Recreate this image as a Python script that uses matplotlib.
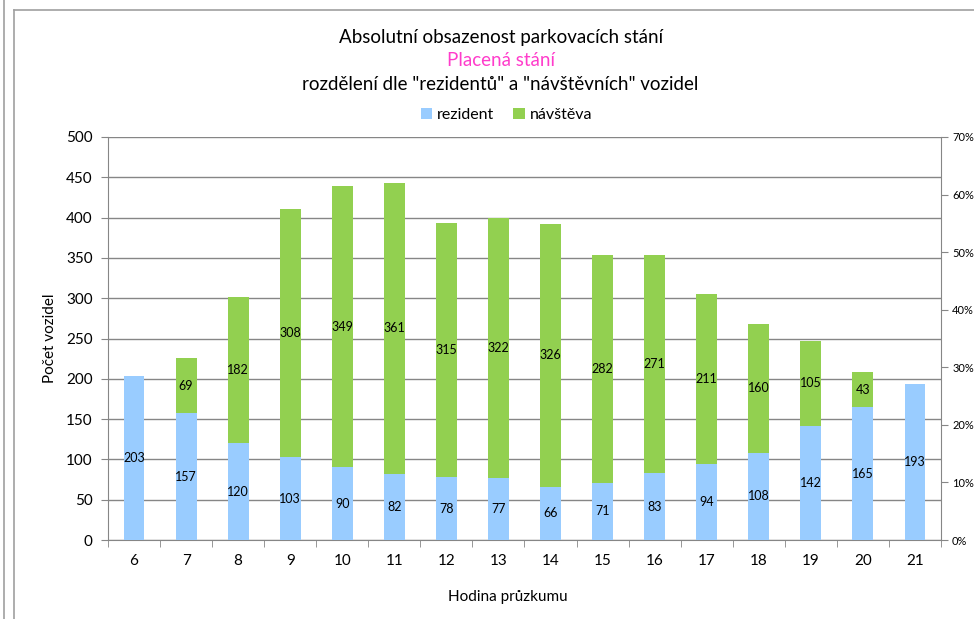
import matplotlib.pyplot as plt
import numpy as np
from matplotlib.lines import Line2D
from matplotlib.ticker import FuncFormatter

plt.rcParams['font.family'] = ['Lato', 'DejaVu Sans']

# data
hours = ['6', '7', '8', '9', '10', '11', '12', '13', '14', '15', '16', '17', '18', '19', '20', '21']
rezident = [203, 157, 120, 103, 90, 82, 78, 77, 66, 71, 83, 94, 108, 142, 165, 193]
navsteva = [0, 69, 182, 308, 349, 361, 315, 322, 326, 282, 271, 211, 160, 105, 43, 0]

blue = '#99CCFF'
green = '#92D050'
grid_c = '#868686'

fig = plt.figure(figsize=(9.74, 6.19), dpi=100)
ax = fig.add_axes([0.1109, 0.1276, 0.8552, 0.6511])

x = np.arange(len(hours))
w = 0.4
ax.bar(x, rezident, w, color=blue, label='rezident', zorder=3)
ax.bar(x, navsteva, w, bottom=rezident, color=green, label='návštěva', zorder=3)

# data labels
for i in range(len(hours)):
    ax.text(x[i], rezident[i] / 2, str(rezident[i]), ha='center', va='center', fontsize=9, zorder=4)
    if navsteva[i] > 0:
        ax.text(x[i], rezident[i] + navsteva[i] / 2, str(navsteva[i]), ha='center', va='center',
                fontsize=9, zorder=4)

ax.set_xlim(-0.5, len(hours) - 0.5)
ax.set_ylim(0, 500)
ax.set_yticks(range(0, 501, 50))
ax.set_xticks(x)
ax.set_xticklabels(hours)
ax.set_xticks(np.arange(-0.5, len(hours), 1), minor=True)
ax.tick_params(axis='x', which='major', length=0, pad=10, labelsize=11)
ax.tick_params(axis='x', which='minor', length=5, color=grid_c, direction='out')
ax.tick_params(axis='y', length=5, color=grid_c, direction='out', labelsize=11, pad=6)
ax.grid(axis='y', color=grid_c, linewidth=1, zorder=0)
for s in ['top', 'right']:
    ax.spines[s].set_visible(False)
for s in ['left', 'bottom']:
    ax.spines[s].set_color(grid_c)

ax2 = ax.twinx()
ax2.set_ylim(0, 0.7)
ax2.set_yticks(np.arange(0, 0.71, 0.1))
ax2.yaxis.set_major_formatter(FuncFormatter(lambda v, p: '{:.0f}%'.format(v * 100)))
ax2.tick_params(axis='y', length=5, color=grid_c, direction='out', labelsize=8, pad=3)
for s in ['top', 'left', 'bottom']:
    ax2.spines[s].set_visible(False)
ax2.spines['right'].set_color(grid_c)

# axis titles
fig.text(0.5216, 0.0355, 'Hodina průzkumu', ha='center', va='center', fontsize=11)
fig.text(0.0513, 0.454, 'Počet vozidel', ha='center', va='center', rotation=90, fontsize=11)

fig.text(0.514, 0.94, 'Absolutní obsazenost parkovacích stání', ha='center', va='center', fontsize=13.5)
fig.text(0.514, 0.902, 'Placená stání', ha='center', va='center', fontsize=13.5, color='#FF3CCB')
fig.text(0.514, 0.863, 'rozdělení dle "rezidentů" a "návštěvních" vozidel', ha='center', va='center',
         fontsize=13.5)

ax.legend(loc='center', bbox_to_anchor=(0.52, 0.814), bbox_transform=fig.transFigure, ncol=2,
          frameon=False, fontsize=11.5, handlelength=0.7, handleheight=0.7, handletextpad=0.3,
          columnspacing=1.2)

# chart frame lines
fig.add_artist(Line2D([0.004, 0.004], [0, 1], color='#a0a0a0', lw=1.2))
fig.add_artist(Line2D([0.0145, 0.0145], [0, 0.984], color='#a0a0a0', lw=1.2))
fig.add_artist(Line2D([0.0145, 1], [0.984, 0.984], color='#a0a0a0', lw=1.2))

fig.savefig('out.png', dpi=100)
